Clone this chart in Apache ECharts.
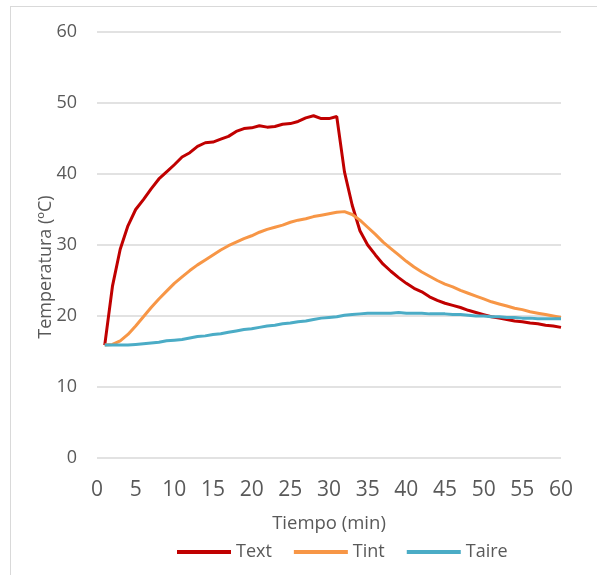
<!DOCTYPE html>
<html>
<head>
<meta charset="utf-8">
<script src="https://cdn.jsdelivr.net/npm/echarts@6/dist/echarts.min.js"></script>
<style>
  html, body { margin: 0; padding: 0; background: #fff; }
  #frame { position: absolute; left: 10px; top: 6px; width: 600px; height: 580px; border: 1px solid #d9d9d9; box-sizing: border-box; }
  #chart { position: absolute; left: 0; top: 0; width: 597px; height: 575px; }
</style>
</head>
<body>
<div id="frame"></div>
<div id="chart"></div>
<script>
// Minutes 1..60
const minutes = Array.from({ length: 60 }, (_, i) => i + 1);

const text = [15.9, 24.2, 29.4, 32.7, 35.0, 36.4, 37.9, 39.3, 40.3, 41.3,
  42.4, 43.0, 43.9, 44.4, 44.5, 44.9, 45.3, 46.0, 46.4, 46.5,
  46.8, 46.6, 46.7, 47.0, 47.1, 47.4, 47.9, 48.2, 47.8, 47.8,
  48.1, 40.3, 35.6, 32.0, 30.0, 28.6, 27.3, 26.3, 25.4, 24.6,
  23.9, 23.4, 22.7, 22.2, 21.8, 21.5, 21.2, 20.8, 20.5, 20.2,
  19.9, 19.7, 19.5, 19.3, 19.2, 19.0, 18.9, 18.7, 18.6, 18.4];

const tint = [15.9, 16.0, 16.5, 17.4, 18.6, 19.9, 21.2, 22.4, 23.5, 24.6,
  25.5, 26.4, 27.2, 27.9, 28.6, 29.3, 29.9, 30.4, 30.9, 31.3,
  31.8, 32.2, 32.5, 32.8, 33.2, 33.5, 33.7, 34.0, 34.2, 34.4,
  34.6, 34.7, 34.3, 33.5, 32.5, 31.5, 30.4, 29.5, 28.6, 27.7,
  26.9, 26.2, 25.6, 25.0, 24.5, 24.1, 23.6, 23.2, 22.8, 22.4,
  22.0, 21.7, 21.4, 21.1, 20.9, 20.6, 20.4, 20.2, 20.0, 19.8];

const taire = [15.9, 15.9, 15.9, 15.9, 16.0, 16.1, 16.2, 16.3, 16.5, 16.6,
  16.7, 16.9, 17.1, 17.2, 17.4, 17.5, 17.7, 17.9, 18.1, 18.2,
  18.4, 18.6, 18.7, 18.9, 19.0, 19.2, 19.3, 19.5, 19.7, 19.8,
  19.9, 20.1, 20.2, 20.3, 20.4, 20.4, 20.4, 20.4, 20.5, 20.4,
  20.4, 20.4, 20.3, 20.3, 20.3, 20.2, 20.2, 20.1, 20.0, 20.0,
  19.9, 19.9, 19.8, 19.8, 19.7, 19.7, 19.6, 19.6, 19.6, 19.6];

const seriesNames = ['Text', 'Tint', 'Taire'];
const seriesColors = ['#c00000', '#f79646', '#4bacc6'];
const seriesData = [text, tint, taire];

const font = '"Open Sans", sans-serif';
const labelColor = '#595959';

const chart = echarts.init(document.getElementById('chart'), null, { renderer: 'canvas' });

chart.setOption({
  animation: false,
  textStyle: { fontFamily: font },
  grid: { left: 97, top: 32, width: 464, height: 426, containLabel: false },
  legend: {
    left: 177,
    top: 543,
    padding: 0,
    itemWidth: 54,
    itemHeight: 4,
    itemGap: 22,
    icon: 'rect',
    data: seriesNames,
    textStyle: { color: labelColor, fontSize: 18, fontFamily: font, padding: 0 }
  },
  xAxis: {
    type: 'value',
    min: 0,
    max: 60,
    interval: 5,
    name: 'Tiempo (min)',
    nameLocation: 'middle',
    nameGap: 56,
    nameMoveOverlap: false,
    nameTextStyle: { color: labelColor, fontSize: 18.5, fontFamily: font },
    axisLine: { show: false },
    axisTick: { show: false },
    splitLine: { show: false },
    axisLabel: { color: labelColor, fontSize: 21, fontFamily: font, margin: 22 }
  },
  yAxis: {
    type: 'value',
    min: 0,
    max: 60,
    interval: 10,
    name: 'Temperatura (ºC)',
    nameLocation: 'middle',
    nameGap: 42,
    nameMoveOverlap: false,
    nameTextStyle: { color: labelColor, fontSize: 18, fontFamily: font, padding: [0, 44, 0, 0] },
    axisLine: { show: false },
    axisTick: { show: false },
    splitLine: { show: true, lineStyle: { color: '#d9d9d9', width: 1.5 } },
    axisLabel: { color: labelColor, fontSize: 18, fontFamily: font, margin: 20 }
  },
  series: seriesNames.map((name, k) => ({
    name,
    type: 'line',
    data: minutes.map((m, i) => [m, seriesData[k][i]]),
    symbol: 'none',
    smooth: false,
    lineStyle: { color: seriesColors[k], width: 3 },
    itemStyle: { color: seriesColors[k] }
  }))
});
</script>
</body>
</html>
